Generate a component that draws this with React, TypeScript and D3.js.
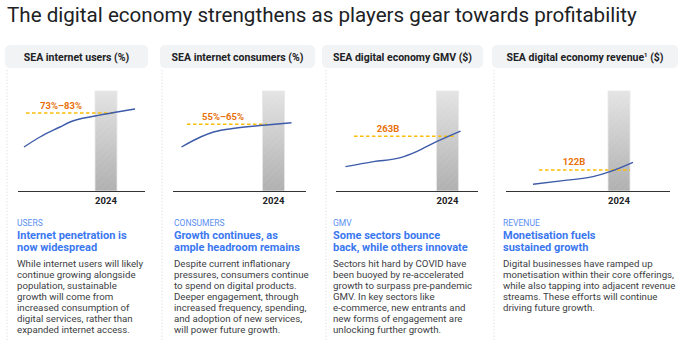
import React from "react";
import * as d3 from "d3";

// ---------- data ----------
const chartTitle = "The digital economy strengthens as players gear towards profitability";
const panelTitles = ["SEA internet users (%)", "SEA internet consumers (%)", "SEA digital economy GMV ($)", "SEA digital economy revenue"];
const panelTitleSup = ["", "", "", "1"];
const panelTitleTail = ["", "", "", " ($)"];
const barYear = 2024;
const barLabels = ["2024", "2024", "2024", "2024"];

const usersYears = [2015.8, 2017.4, 2019.4, 2020.4, 2022.9, 2025.1, 2026.9];
const usersPct = [44, 54, 64, 69, 75, 79, 82];
const usersTarget = 78;
const usersLabel = "73%–83%";

const consumersYears = [2014.8, 2016.7, 2018.0, 2020.3, 2023.3, 2025.8];
const consumersPct = [44, 54, 59, 63, 66, 68.3];
const consumersTarget = 66.7;
const consumersLabel = "55%–65%";

const gmvYears = [2013.8, 2016.6, 2019.3, 2020.9, 2022.9, 2025.3];
const gmvB = [117, 141, 160, 189, 237, 288];
const gmvTarget = 263;
const gmvLabel = "263B";

const revYears = [2015.4, 2018.4, 2021.4, 2023.1, 2025.4];
const revB = [39, 60, 83, 112, 166];
const revTarget = 122;
const revLabel = "122B";

const yMax = [100, 100, 480, 580];

const categories = ["USERS", "CONSUMERS", "GMV", "REVENUE"];
const headings = [
  ["Internet penetration is", "now widespread"],
  ["Growth continues, as", "ample headroom remains"],
  ["Some sectors bounce", "back, while others innovate"],
  ["Monetisation fuels", "sustained growth"],
];
const bodies = [
  ["While internet users will likely", "continue growing alongside", "population, sustainable", "growth will come from", "increased consumption of", "digital services, rather than", "expanded internet access."],
  ["Despite current inflationary", "pressures, consumers continue", "to spend on digital products.", "Deeper engagement, through", "increased frequency, spending,", "and adoption of new services,", "will power future growth."],
  ["Sectors hit hard by COVID have", "been buoyed by re-accelerated", "growth to surpass pre-pandemic", "GMV. In key sectors like", "e-commerce, new entrants and", "new forms of engagement are", "unlocking further growth."],
  ["Digital businesses have ramped up", "monetisation within their core offerings,", "while also tapping into adjacent revenue", "streams. These efforts will continue", "driving future growth."],
];

// ---------- layout ----------
const W = 690, H = 341;
const baseY = 191, topY = 91;
const FONT = "Roboto, 'Noto Sans', sans-serif";
const layout = [
  { box: [5, 148], axis: [18, 145], bar: 106, dash: [26, 115], label: 61, text: 17 },
  { box: [160, 315], axis: [173, 306], bar: 273.5, dash: [187, 267], label: 223, text: 174 },
  { box: [322, 483], axis: [336, 478], bar: 447.5, dash: [354, 455], label: 388, text: 333 },
  { box: [492, 678], axis: [506, 670], bar: 619, dash: [539, 630], label: 574, text: 503 },
];
const separators = [7, 162, 326, 494];

const series = [
  { years: usersYears, vals: usersPct, target: usersTarget, label: usersLabel },
  { years: consumersYears, vals: consumersPct, target: consumersTarget, label: consumersLabel },
  { years: gmvYears, vals: gmvB, target: gmvTarget, label: gmvLabel },
  { years: revYears, vals: revB, target: revTarget, label: revLabel },
];

export default function App() {
  return (
    <svg width={W} height={H} style={{ position: "absolute", left: 0, top: 0, background: "#fff" }} fontFamily={FONT}>
      <defs>
        <linearGradient id="barGrad" x1="0" y1="0" x2="0" y2="1">
          <stop offset="0" stopColor="#e4e4e4" />
          <stop offset="1" stopColor="#b0b0b0" />
        </linearGradient>
        <pattern id="hatch" width="5" height="5" patternUnits="userSpaceOnUse" patternTransform="rotate(45)">
          <line x1="0" y1="0" x2="0" y2="5" stroke="#ffffff" strokeOpacity="0.08" strokeWidth="1.5" />
        </pattern>
      </defs>
      <rect width={W} height={H} fill="#fff" />
      <text x={7} y={22} fontSize={20.6} fill="#202124" fontWeight={400}>{chartTitle}</text>

      {separators.map((sx, i) => (
        <line key={i} x1={sx} x2={sx} y1={70} y2={H} stroke="#dadce0" strokeDasharray="1.2,2" strokeWidth={1} />
      ))}

      {layout.map((L, i) => {
        const s = series[i];
        const x = d3.scaleLinear().domain([barYear - 1, barYear + 1]).range([L.bar - 10, L.bar + 10]);
        const y = d3.scaleLinear().domain([0, yMax[i]]).range([baseY, topY]);
        const line = d3.line<number>().x((_, k) => x(s.years[k])).y((v) => y(v)).curve(d3.curveMonotoneX);
        const bx = x(barYear);
        return (
          <g key={i}>
            <rect x={L.box[0]} y={45} width={L.box[1] - L.box[0]} height={23} rx={5} fill="#f1f3f4" />
            <text x={(L.box[0] + L.box[1]) / 2} y={60.5} textAnchor="middle" fontSize={10.5} fontWeight={700} fill="#202124">
              {panelTitles[i]}
              {panelTitleSup[i] && <tspan fontSize={6} dy={-4}>{panelTitleSup[i]}</tspan>}
              {panelTitleTail[i] && <tspan dy={panelTitleSup[i] ? 4 : 0}>{panelTitleTail[i]}</tspan>}
            </text>

            <rect x={bx - 11} y={y(yMax[i])} width={22} height={baseY - y(yMax[i])} fill="url(#barGrad)" stroke="#e8e8e8" strokeWidth={0.8} />
            <rect x={bx - 11} y={y(yMax[i])} width={22} height={baseY - y(yMax[i])} fill="url(#hatch)" />
            <line x1={L.axis[0]} x2={L.axis[1]} y1={baseY + 0.5} y2={baseY + 0.5} stroke="#333" strokeWidth={1} />
            <text x={bx} y={203.5} textAnchor="middle" fontSize={9.5} fontWeight={700} fill="#202124">{barLabels[i]}</text>

            <line x1={L.dash[0]} x2={L.dash[1]} y1={y(s.target)} y2={y(s.target)} stroke="#fbbc04" strokeWidth={1.5} strokeDasharray="3.5,2.5" />
            <text x={L.label} y={y(s.target) - 4.5} textAnchor="middle" fontSize={9.5} fontWeight={700} fill="#e8710a">{s.label}</text>
            <path d={line(s.vals) || ""} fill="none" stroke="#3d5ba9" strokeWidth={1.4} />

            <text x={L.text} y={225.5} fontSize={8.5} fill="#5a8ff2">{categories[i]}</text>
            {headings[i].map((h, k) => (
              <text key={k} x={L.text} y={238.5 + k * 12.5} fontSize={11} fontWeight={700} fill="#3b78f0">{h}</text>
            ))}
            {bodies[i].map((b, k) => (
              <text key={k} x={L.text} y={266.5 + k * 11} fontSize={9.7} fill="#3c4043">{b}</text>
            ))}
          </g>
        );
      })}
    </svg>
  );
}
